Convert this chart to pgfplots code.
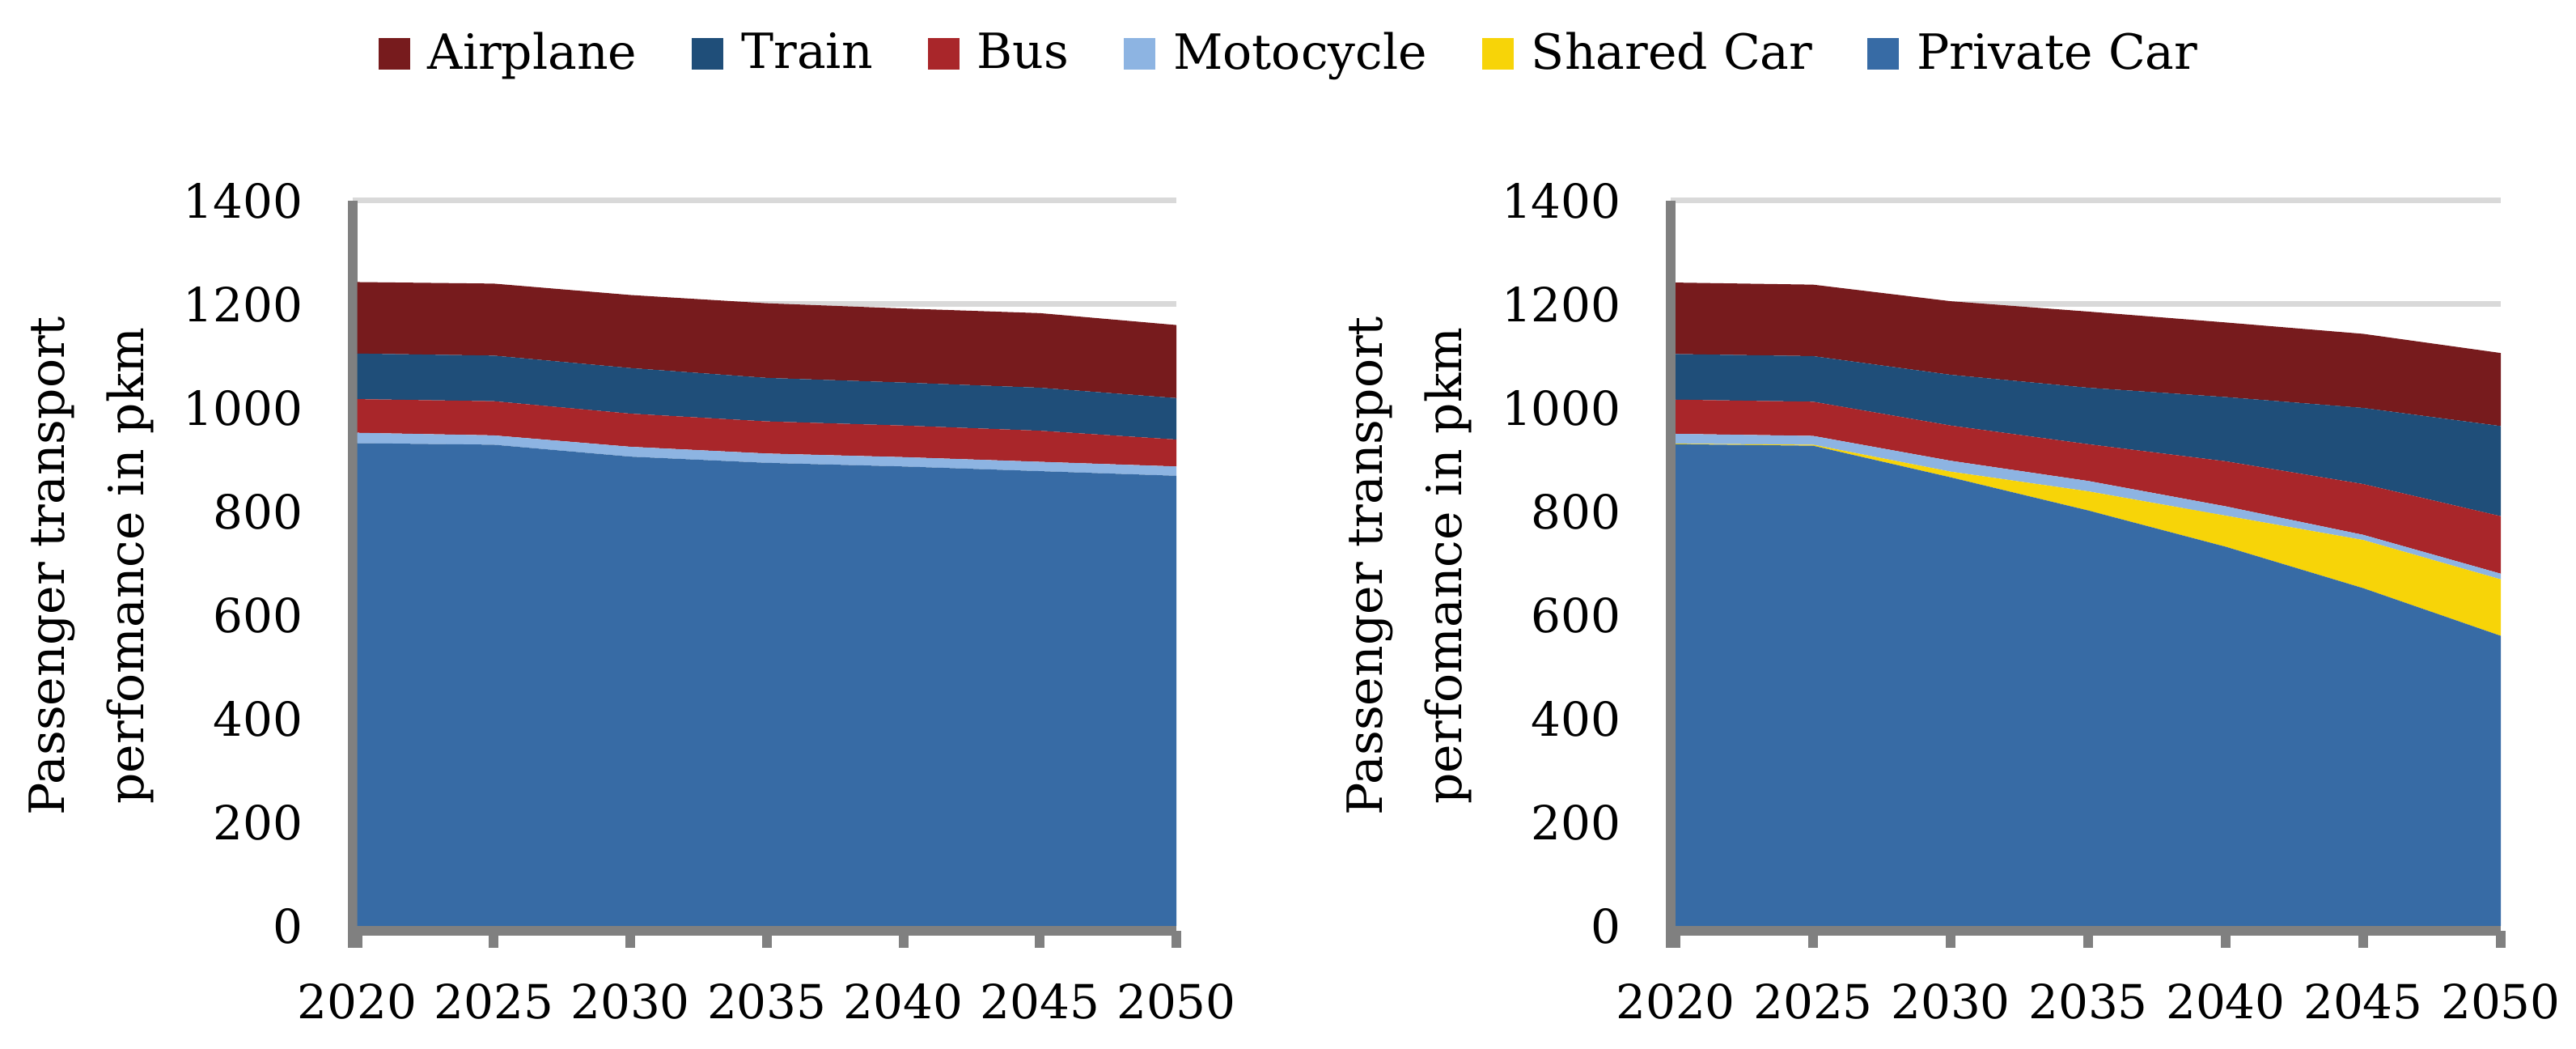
\documentclass[border=0pt]{standalone}
\usepackage{fontspec}
\setmainfont{DejaVu Serif}
\usepackage{pgfplots}
\usepackage{pgfplotstable}
\pgfplotsset{compat=1.18}

\definecolor{cAir}{HTML}{771B1D}
\definecolor{cTrain}{HTML}{1F4E79}
\definecolor{cBus}{HTML}{A9262A}
\definecolor{cMoto}{HTML}{8DB4E2}
\definecolor{cShared}{HTML}{F7D408}
\definecolor{cPriv}{HTML}{376BA5}
\definecolor{axgray}{HTML}{808080}
\definecolor{gridgray}{HTML}{D9D9D9}

% left scenario
\pgfplotstableread{
year priv moto bus train air
2020 932 20 65 88 138
2025 929 18 66 88 139
2030 906 19 64 88 141
2035 894 18 62 84 144
2040 887 18 61 83 143
2045 878 18 60 83 144
2050 869 18 52 80 141
}\basedata

% right scenario (with shared cars)
\pgfplotstableread{
year priv shared moto bus train air
2020 930 1 19 66 88 138
2025 927 2 17 66 88 138
2030 866 11 21 68 98 142
2035 802 37 20 71 109 147
2040 732 60 18 87 124 144
2045 652 93 10 98 147 143
2050 560 109 11 111 174 141
}\shareddata

\pgfplotsset{
  panel/.style={
    scale only axis,
    height=225.5pt,
    xmin=2019.822, xmax=2050,
    ymin=-9.4, ymax=1400,
    axis lines=left,
    axis line style={-, draw=axgray, line width=3pt},
    y axis line style={shorten <=-5.3pt},
    xtick={2020,2025,...,2050},
    ytick={0,200,...,1400},
    tick align=outside,
    major tick length=5.3pt,
    xtick style={draw=axgray, line width=3pt},
    ytick style={draw=none},
    ymajorgrids,
    grid style={draw=gridgray, line width=1.75pt},
    /pgf/number format/1000 sep={},
    /pgf/number format/assume math mode=true,
    tick label style={font=\fontsize{14.5pt}{16pt}\selectfont},
    xticklabel style={yshift=-7.5pt},
    yticklabel style={xshift=-6.5pt},
    ylabel={Passenger transport\\perfomance in pkm},
    ylabel style={align=center, font=\fontsize{15pt}{24.5pt}\selectfont, anchor=south},
    stack plots=y,
    every axis plot/.append style={draw=none},
    legend image code/.code={\fill[#1] (0pt,-5pt) rectangle (9.75pt,4.75pt);},
  }
}

\begin{document}
\begin{tikzpicture}
\useasboundingbox (0,0) rectangle (796pt,324pt);

\begin{axis}[panel, width=254.6pt, at={(108.9pt,36.5pt)}, anchor=south west,
    ylabel style={at={(axis description cs:-0.2274,0.5)}}]
  \addplot[fill=cPriv]  table[x=year, y=priv]  {\basedata} \closedcycle;
  \addplot[fill=cMoto]  table[x=year, y=moto]  {\basedata} \closedcycle;
  \addplot[fill=cBus]   table[x=year, y=bus]   {\basedata} \closedcycle;
  \addplot[fill=cTrain] table[x=year, y=train] {\basedata} \closedcycle;
  \addplot[fill=cAir]   table[x=year, y=air]   {\basedata} \closedcycle;
\end{axis}

\begin{axis}[panel, width=256.5pt, at={(516.25pt,36.5pt)}, anchor=south west,
    ylabel style={at={(axis description cs:-0.2257,0.5)}},
    reverse legend,
    legend columns=6,
    legend style={at={(axis description cs:-0.457,1.202)}, anchor=center,
      draw=none, fill=none, font=\fontsize{15pt}{17pt}\selectfont,
      /tikz/every odd column/.append style={column sep=3.5pt},
      /tikz/every even column/.append style={column sep=15pt}}]
  \addplot[fill=cPriv]   table[x=year, y=priv]   {\shareddata} \closedcycle;
  \addplot[fill=cShared] table[x=year, y=shared] {\shareddata} \closedcycle;
  \addplot[fill=cMoto]   table[x=year, y=moto]   {\shareddata} \closedcycle;
  \addplot[fill=cBus]    table[x=year, y=bus]    {\shareddata} \closedcycle;
  \addplot[fill=cTrain]  table[x=year, y=train]  {\shareddata} \closedcycle;
  \addplot[fill=cAir]    table[x=year, y=air]    {\shareddata} \closedcycle;
  \legend{Private Car, Shared Car, Motocycle, Bus, Train, Airplane}
\end{axis}
\end{tikzpicture}
\end{document}
